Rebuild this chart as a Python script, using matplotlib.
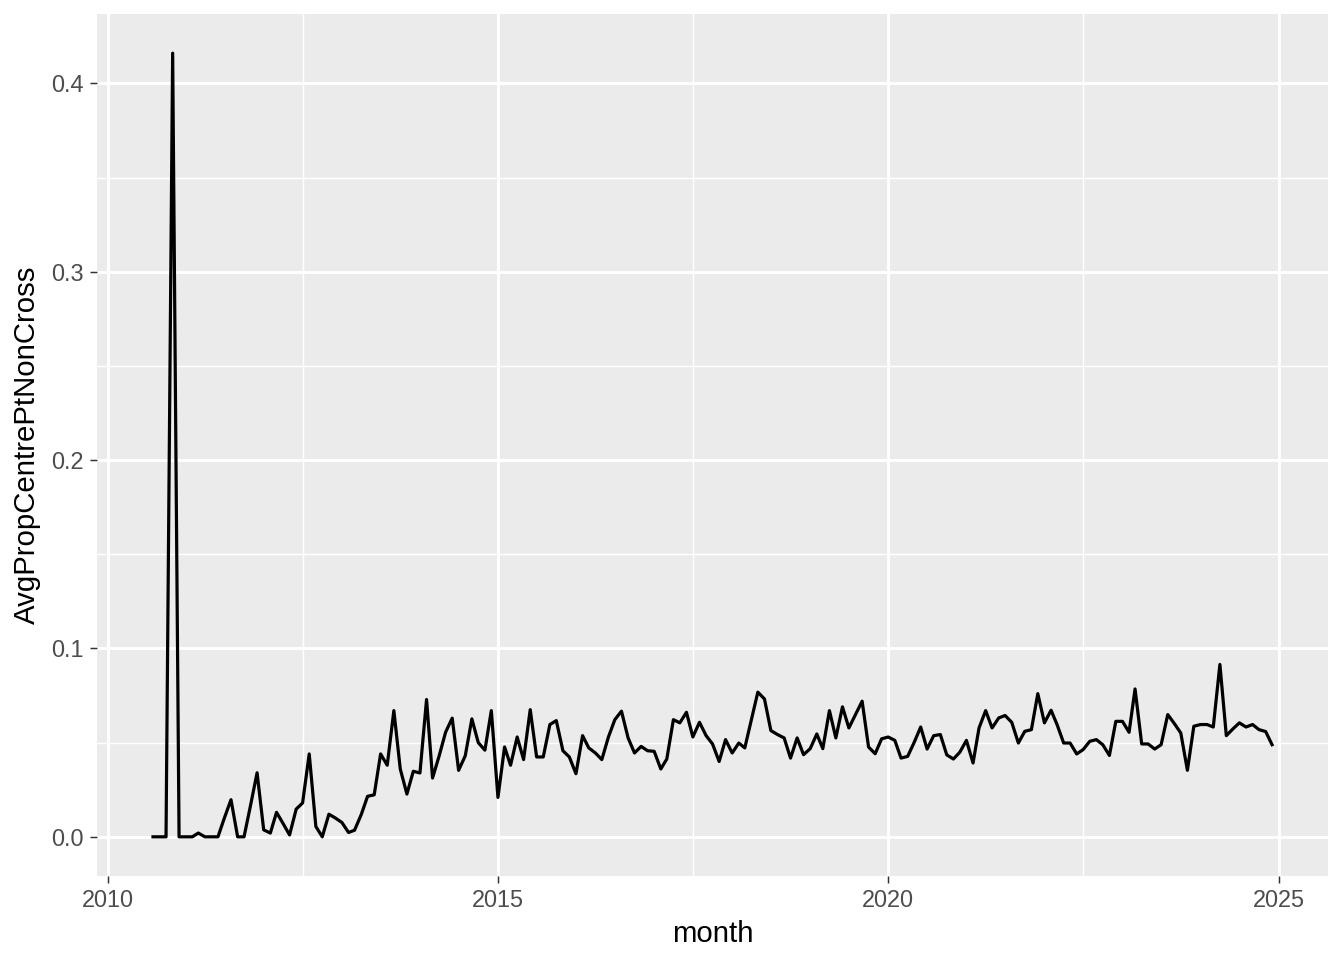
import matplotlib
matplotlib.use("Agg")
import matplotlib.pyplot as plt
import matplotlib.dates as mdates
import pandas as pd
from matplotlib.ticker import FixedLocator, FuncFormatter

# monthly series, first month 2010-08
START_MONTH = "2010-08-01"
values = [
    0.0, 0.0, 0.0, 0.416, 0.0, 0.0, 0.0, 0.002, 0.0, 0.0,
    0.0, 0.010, 0.0197, 0.0, 0.0, 0.017, 0.034, 0.0037, 0.002, 0.013,
    0.007, 0.001, 0.0147, 0.018, 0.044, 0.0055, 0.0, 0.012, 0.010, 0.0076,
    0.0023, 0.0035, 0.0117, 0.0215, 0.0223, 0.044, 0.038, 0.067, 0.036, 0.0227,
    0.0348, 0.0339, 0.0729, 0.0312, 0.043, 0.0555, 0.063, 0.0353, 0.043, 0.0626,
    0.050, 0.046, 0.067, 0.0209, 0.0477, 0.038, 0.053, 0.041, 0.0675, 0.0424,
    0.0424, 0.0596, 0.0617, 0.0457, 0.0424, 0.0335, 0.0537, 0.0472, 0.0445, 0.041,
    0.053, 0.0622, 0.0667, 0.0525, 0.0445, 0.048, 0.0457, 0.0454, 0.036, 0.0413,
    0.0622, 0.0605, 0.0661, 0.053, 0.0608, 0.0537, 0.0493, 0.040, 0.0516, 0.0445,
    0.0498, 0.0472, 0.0622, 0.0768, 0.0732, 0.0564, 0.0543, 0.0525, 0.0418, 0.0525,
    0.0436, 0.0468, 0.0546, 0.0468, 0.067, 0.0525, 0.069, 0.0578, 0.0649, 0.072,
    0.0477, 0.0441, 0.052, 0.053, 0.0512, 0.0418, 0.0427, 0.050, 0.0583, 0.0466,
    0.0537, 0.0543, 0.0435, 0.0413, 0.0449, 0.0512, 0.0392, 0.0578, 0.067, 0.0578,
    0.0631, 0.0644, 0.0608, 0.0498, 0.056, 0.0569, 0.076, 0.0605, 0.0672, 0.0596,
    0.0498, 0.0498, 0.044, 0.0463, 0.0507, 0.0516, 0.0489, 0.0432, 0.0613, 0.0613,
    0.0555, 0.0785, 0.0493, 0.0493, 0.0466, 0.0489, 0.0649, 0.0601, 0.0551, 0.0353,
    0.0587, 0.0596, 0.0596, 0.0583, 0.0915, 0.0537, 0.0573, 0.0605, 0.0583, 0.0596,
    0.0569, 0.0559, 0.0489,
]
months = pd.date_range(START_MONTH, periods=len(values), freq="MS")

x_major = [2010, 2015, 2020, 2025]
x_minor = [2012.5, 2017.5, 2022.5]
y_major = [0.0, 0.1, 0.2, 0.3, 0.4]
y_minor = [0.05, 0.15, 0.25, 0.35]

PANEL = "#EBEBEB"
TICK_TXT = "#4D4D4D"
TICK_COL = "#333333"

plt.rcParams["font.family"] = ["Liberation Sans", "DejaVu Sans"]


def year_num(y):
    whole = int(y)
    base = mdates.date2num(pd.Timestamp(f"{whole}-01-01"))
    nxt = mdates.date2num(pd.Timestamp(f"{whole + 1}-01-01"))
    return base + (y - whole) * (nxt - base)


fig = plt.figure(figsize=(7, 5), dpi=192)
ax = fig.add_axes([0.0722, 0.0875, 0.9159, 0.8979])
ax.set_facecolor(PANEL)
for s in ax.spines.values():
    s.set_visible(False)

xn = mdates.date2num(months)
ax.plot(xn, values, color="black", lw=1.2, solid_joinstyle="round", zorder=3)

span = xn[-1] - xn[0]
ax.set_xlim(xn[0] - 0.05 * span, xn[-1] + 0.05 * span)
ymax = max(values)
ax.set_ylim(-0.05 * ymax, ymax * 1.05)

ax.xaxis.set_major_locator(FixedLocator([year_num(y) for y in x_major]))
ax.xaxis.set_minor_locator(FixedLocator([year_num(y) for y in x_minor]))
ax.xaxis.set_major_formatter(FuncFormatter(lambda v, p: mdates.num2date(v).strftime("%Y")))
ax.yaxis.set_major_locator(FixedLocator(y_major))
ax.yaxis.set_minor_locator(FixedLocator(y_minor))
ax.yaxis.set_major_formatter(FuncFormatter(lambda v, p: f"{v:.1f}"))

ax.grid(which="major", color="white", lw=1.1, zorder=1)
ax.grid(which="minor", color="white", lw=0.55, zorder=1)
ax.set_axisbelow(True)

ax.tick_params(which="major", length=2.75, width=0.55, color=TICK_COL,
               labelcolor=TICK_TXT, labelsize=8.8, pad=2.2)
ax.tick_params(which="minor", length=0)

ax.set_xlabel("month", fontsize=11, color="black", labelpad=3)
ax.set_ylabel("AvgPropCentrePtNonCross", fontsize=11, color="black", labelpad=4)

fig.savefig("out.png", dpi=192, facecolor="white")
